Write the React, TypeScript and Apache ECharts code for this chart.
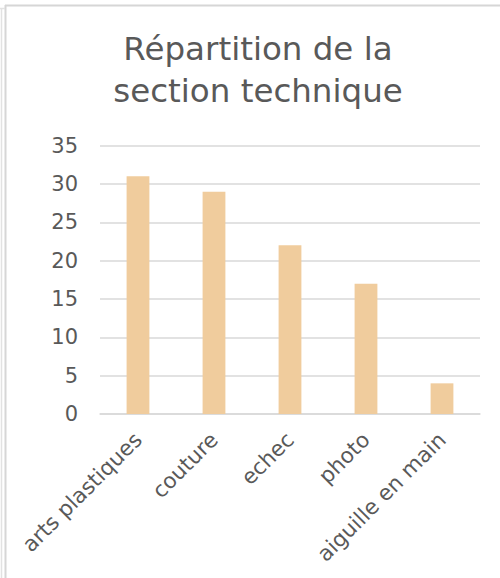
import React, { useEffect, useRef } from "react";
import * as echarts from "echarts";

const categories = ["arts plastiques", "couture", "echec", "photo", "aiguille en main"];
const values = [31, 29, 22, 17, 4];
const titleText = "Répartition de la\nsection technique";

const FONT = "DejaVu Sans";
const GRAY = "#595959";

export default function App() {
  const ref = useRef<HTMLDivElement>(null);
  useEffect(() => {
    if (!ref.current) return;
    const chart = echarts.init(ref.current, undefined, { renderer: "svg" });
    chart.setOption({
      animation: false,
      backgroundColor: "#ffffff",
      title: {
        text: titleText,
        left: 258,
        top: 28,
        textAlign: "center",
        padding: 0,
        textStyle: {
          fontFamily: FONT,
          fontSize: 32.5,
          lineHeight: 42,
          fontWeight: "normal",
          color: GRAY,
        },
      },
      grid: { left: 100, right: 20, top: 145.7, bottom: 164, containLabel: false },
      xAxis: {
        type: "category",
        data: categories,
        axisTick: { show: false },
        axisLine: { show: true, lineStyle: { color: "#d9d9d9", width: 1.5 } },
        axisLabel: {
          rotate: 45,
          interval: 0,
          margin: 22,
          fontFamily: FONT,
          fontSize: 21.5,
          color: GRAY,
        },
      },
      yAxis: {
        type: "value",
        min: 0,
        max: 35,
        interval: 5,
        axisLine: { show: false },
        axisTick: { show: false },
        splitLine: { lineStyle: { color: "#d9d9d9", width: 1.5 } },
        axisLabel: {
          margin: 22,
          fontFamily: FONT,
          fontSize: 21,
          color: GRAY,
        },
      },
      series: [
        {
          type: "bar",
          data: values,
          barWidth: "30%",
          itemStyle: { color: "#F0CC9D" },
        },
      ],
      graphic: [
        { type: "line", shape: { x1: 5, y1: 5.5, x2: 500, y2: 5.5 }, style: { stroke: "#d6d6d6", lineWidth: 2 } },
        { type: "line", shape: { x1: 5.5, y1: 5, x2: 5.5, y2: 578 }, style: { stroke: "#d6d6d6", lineWidth: 2 } },
        { type: "line", shape: { x1: 1.5, y1: 8, x2: 1.5, y2: 578 }, style: { stroke: "#e2e2e2", lineWidth: 1.5 } },
        { type: "line", shape: { x1: 0, y1: 8.5, x2: 5, y2: 8.5 }, style: { stroke: "#e2e2e2", lineWidth: 1.5 } },
      ],
    });
    return () => chart.dispose();
  }, []);
  return (
    <div
      ref={ref}
      style={{ position: "absolute", left: 0, top: 0, width: 500, height: 578 }}
    />
  );
}
